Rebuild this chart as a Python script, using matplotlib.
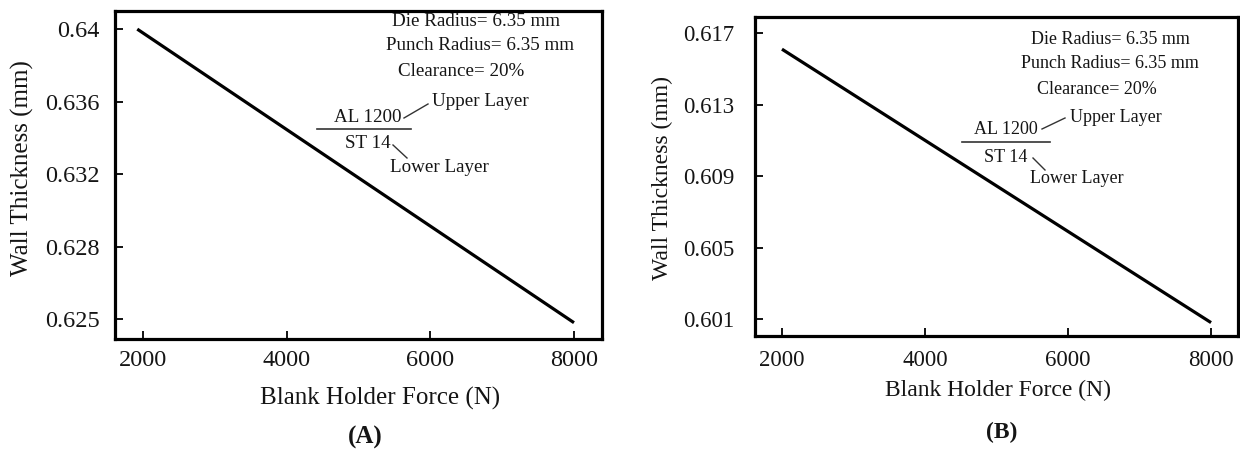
import matplotlib
matplotlib.use("Agg")
import matplotlib.pyplot as plt
from matplotlib.lines import Line2D

plt.rcParams['font.family'] = ['Liberation Serif', 'DejaVu Serif']

# Wall thickness versus blank holder force, two cases
force_a = [1920, 8000]
thick_a = [0.6400, 0.6238]
yticks_a = [0.640, 0.636, 0.632, 0.628, 0.624]
yticklabels_a = ['0.64', '0.636', '0.632', '0.628', '0.625']

force_b = [2000, 8000]
thick_b = [0.6161, 0.6008]
yticks_b = [0.617, 0.613, 0.609, 0.605, 0.601]
yticklabels_b = ['0.617', '0.613', '0.609', '0.605', '0.601']

xticks = [2000, 4000, 6000, 8000]
xticklabels = ['2000', '4000', '6000', '8000']

notes = ['Die Radius= 6.35 mm', 'Punch Radius= 6.35 mm', 'Clearance= 20%']

W, H = 1240, 461
fig = plt.figure(figsize=(W / 100, H / 100), dpi=100)


def px_box(x0, x1, ytop, ybot):
    return [x0 / W, 1 - ybot / H, (x1 - x0) / W, (ybot - ytop) / H]


def px(x, y):
    return x / W, 1 - y / H


ax_a = fig.add_axes(px_box(115, 602, 11, 339))
ax_b = fig.add_axes(px_box(755, 1238, 17, 336))

txt = '#151515'


def style(ax, xlim, ylim, yticks, ylabels, ypad, xpad, size):
    ax.set_xlim(*xlim)
    ax.set_ylim(*ylim)
    ax.set_xticks(xticks)
    ax.set_xticklabels(xticklabels)
    ax.set_yticks(yticks)
    ax.set_yticklabels(ylabels)
    for s in ax.spines.values():
        s.set_linewidth(2.3)
        s.set_color('black')
    ax.tick_params(axis='both', direction='in', length=6, width=1.3,
                   labelsize=size, colors='black', labelcolor=txt,
                   top=False, right=False)
    ax.tick_params(axis='y', pad=ypad)
    ax.tick_params(axis='x', pad=xpad)


style(ax_a, (1610, 8390), (0.6229, 0.6410), yticks_a, yticklabels_a, 11, 8, 17.5)
style(ax_b, (1623, 8377), (0.60005, 0.6179), yticks_b, yticklabels_b, 15, 10, 16.5)

ax_a.plot(force_a, thick_a, color='black', lw=2.3, solid_capstyle='butt')
ax_b.plot(force_b, thick_b, color='black', lw=2.3, solid_capstyle='butt')


def annotate(cx_notes, y_notes, al_c, al_y, bar, st_y, up, low, c1, c2, fs):
    for (cx, cy), s in zip(zip(cx_notes, y_notes), notes):
        fig.text(*px(cx, cy), s, ha='center', va='center', fontsize=fs, color=txt)
    fig.text(*px(al_c, al_y), 'AL 1200', ha='center', va='center', fontsize=fs, color=txt)
    fig.text(*px(al_c, st_y), 'ST 14', ha='center', va='center', fontsize=fs, color=txt)
    fig.text(*px(*up), 'Upper Layer', ha='left', va='center', fontsize=fs, color=txt)
    fig.text(*px(*low), 'Lower Layer', ha='left', va='center', fontsize=fs, color=txt)
    (bx0, bx1, by) = bar
    p0, p1 = px(bx0, by), px(bx1, by)
    fig.add_artist(Line2D([p0[0], p1[0]], [p0[1], p1[1]], color='#333333', lw=1.2))
    for (a, b) in (c1, c2):
        q0, q1 = px(*a), px(*b)
        fig.add_artist(Line2D([q0[0], q1[0]], [q0[1], q1[1]], color='#333333', lw=1.0))


annotate([476, 480, 461], [22, 46, 72], 368, 117, (317, 411, 129), 144,
         (432, 101), (390, 168),
         ((404, 118), (428, 104)), ((393, 145), (407, 158)), 13.7)
annotate([1110, 1110, 1097], [40, 64, 89], 1006, 129, (962, 1050, 142), 157,
         (1070, 117), (1030, 178),
         ((1042, 129), (1065, 118)), ((1033, 158), (1045, 170)), 13)

# axis titles and panel letters
fig.text(*px(22, 168), 'Wall Thickness (mm)', rotation=90, ha='center', va='center',
         fontsize=18, color=txt)
fig.text(*px(662, 178), 'Wall Thickness (mm)', rotation=90, ha='center', va='center',
         fontsize=17, color=txt)
fig.text(*px(380, 398), 'Blank Holder Force (N)', ha='center', va='center',
         fontsize=18, color=txt)
fig.text(*px(998, 390), 'Blank Holder Force (N)', ha='center', va='center',
         fontsize=17, color=txt)
fig.text(*px(365, 437), '(A)', ha='center', va='center', fontsize=18,
         fontweight='bold', color=txt)
fig.text(*px(1002, 432), '(B)', ha='center', va='center', fontsize=17,
         fontweight='bold', color=txt)

fig.savefig('out.png', dpi=100, facecolor='white')
